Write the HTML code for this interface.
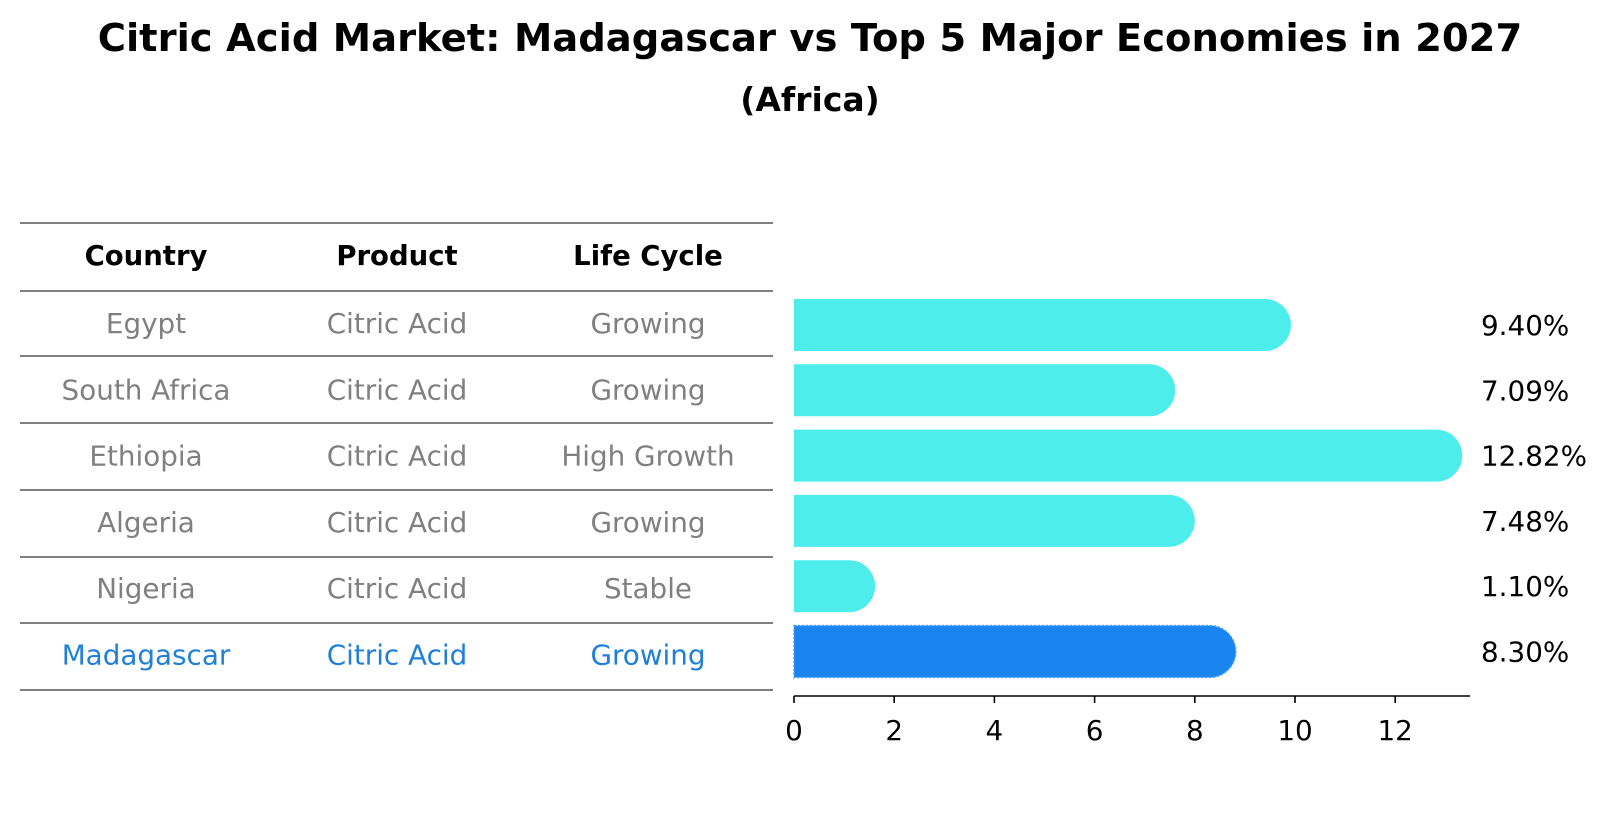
<!DOCTYPE html>
<html><head><meta charset="utf-8"><style>
html,body{margin:0;padding:0;background:#fff;}
svg{display:block;font-family:"DejaVu Sans","Liberation Sans",sans-serif;}
</style></head><body>
<svg id="chart" width="1604" height="823" viewBox="0 0 1604 823">
<text x="810" y="51" text-anchor="middle" font-size="38.5" font-weight="bold">Citric Acid Market: Madagascar vs Top 5 Major Economies in 2027</text>
<text x="810" y="111" text-anchor="middle" font-size="33" font-weight="bold">(Africa)</text>
<g id="table"></g>
<g id="bars"></g>
<g id="axis"></g>
<g id="labels"></g>
</svg>
<script>
const countries = ["Egypt","South Africa","Ethiopia","Algeria","Nigeria","Madagascar"];
const products = ["Citric Acid","Citric Acid","Citric Acid","Citric Acid","Citric Acid","Citric Acid"];
const lifeCycles = ["Growing","Growing","High Growth","Growing","Stable","Growing"];
const values = [9.40, 7.09, 12.82, 7.48, 1.10, 8.30];
const valueLabels = ["9.40%","7.09%","12.82%","7.48%","1.10%","8.30%"];
const xTicks = [0,2,4,6,8,10,12];

const NS = "http://www.w3.org/2000/svg";
const X0 = 794, PXU = 50.1;
const xScale = v => X0 + v * PXU;
const yCenter = i => 325 + i * 65.3;
const BH = 52;
function mk(tag, attrs, parent){const e=document.createElementNS(NS,tag);for(const k in attrs)e.setAttribute(k,attrs[k]);parent.appendChild(e);return e;}

const table = document.getElementById("table");
const lineYs = [223,291,356,423,490,557,623,690];
lineYs.forEach((y,i)=>{
  const l = mk("line",{x1:20,x2:773,y1:y,y2:y,stroke:"#000","stroke-width":1.1},table);
  
  
});
const colX = [146,397,648];
["Country","Product","Life Cycle"].forEach((h,j)=>{
  const t = mk("text",{x:colX[j],y:265,"text-anchor":"middle","font-size":27.5,"font-weight":"bold"},table);
  t.textContent = h;
  
  
});
countries.forEach((c,i)=>{
  const cy = 323 + i*66.3;
  const col = c==="Madagascar" ? "#1f7fd9" : "#808080";
  [c, products[i], lifeCycles[i]].forEach((txt,j)=>{
    const t = mk("text",{x:colX[j],y:cy+10,"text-anchor":"middle","font-size":27.8,fill:col},table);
    t.textContent = txt;
    
    
  });
});

const bars = document.getElementById("bars");
const labels = document.getElementById("labels");
values.forEach((v,i)=>{
  const cy = yCenter(i), r = BH/2;
  const x1 = xScale(v);
  const hl = countries[i]==="Madagascar";
  const d = `M${X0},${cy-r} L${x1},${cy-r} A${r},${r} 0 0 1 ${x1},${cy+r} L${X0},${cy+r} Z`;
  const p = mk("path",{d:d,fill: hl ? "#1a85f0" : "#4cedea"},bars);
  if(hl){p.setAttribute("stroke","#4aa6f5");p.setAttribute("stroke-width","1.5");p.setAttribute("stroke-dasharray","2,2");}
  
  
  const t = mk("text",{x:1481,y:cy+10,"font-size":27.8},labels);
  t.textContent = valueLabels[i];
  
  
});

const axis = document.getElementById("axis");
const al = mk("line",{x1:X0,x2:1470,y1:696,y2:696,stroke:"#000","stroke-width":1.6},axis);


xTicks.forEach(v=>{
  const x = xScale(v);
  const tk = mk("line",{x1:x,x2:x,y1:696,y2:703,stroke:"#000","stroke-width":1.6},axis);
  
  
  const t = mk("text",{x:x,y:740,"text-anchor":"middle","font-size":27.8},axis);
  t.textContent = String(v);
  
  
});
</script>
</body></html>
